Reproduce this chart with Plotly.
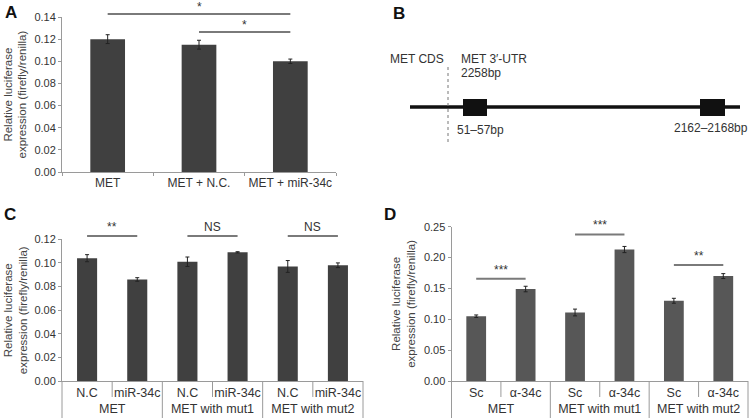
import plotly.graph_objects as go

# ---------------- data ----------------
# Panel A
a_categories = ["MET", "MET + N.C.", "MET + miR-34c"]
a_values = [0.120, 0.115, 0.100]
a_errors = [0.0040, 0.0040, 0.0020]
a_sig_pairs = [(0, 2), (1, 2)]
a_sig_labels = ["*", "*"]
a_yticks = [0.00, 0.02, 0.04, 0.06, 0.08, 0.10, 0.12, 0.14]

# Panel C
c_groups = ["MET", "MET", "MET with mut1", "MET with mut1", "MET with mut2", "MET with mut2"]
c_subs = ["N.C", "miR-34c", "N.C", "miR-34c", "N.C", "miR-34c"]
c_values = [0.104, 0.086, 0.101, 0.109, 0.097, 0.098]
c_errors = [0.0030, 0.0015, 0.0040, 0.0005, 0.0050, 0.0020]
c_sig_pairs = [(0, 1), (2, 3), (4, 5)]
c_sig_labels = ["**", "NS", "NS"]
c_yticks = [0.00, 0.02, 0.04, 0.06, 0.08, 0.10, 0.12]

# Panel D
d_groups = ["MET", "MET", "MET with mut1", "MET with mut1", "MET with mut2", "MET with mut2"]
d_subs = ["Sc", "α-34c", "Sc", "α-34c", "Sc", "α-34c"]
d_values = [0.105, 0.149, 0.111, 0.213, 0.130, 0.170]
d_errors = [0.0020, 0.0045, 0.0055, 0.0050, 0.0040, 0.0040]
d_sig_pairs = [(0, 1), (2, 3), (4, 5)]
d_sig_labels = ["***", "***", "**"]
d_yticks = [0.00, 0.05, 0.10, 0.15, 0.20, 0.25]

# Panel B (schematic, not to scale)
b_cds_label = "MET CDS"
b_utr_label = "MET 3′-UTR"
b_utr_length = "2258bp"
b_site_labels = ["51–57bp", "2162–2168bp"]

# ---------------- layout constants ----------------
W, H = 750, 418
FONT = "Liberation Sans, Arial, sans-serif"
TXT = "#333333"
AX = "#9a9a9a"

def px_x(p):
    return p / W

def px_y(p):
    return 1 - p / H

# plot areas in pixels: (left, right, top, bottom)
A_BOX = (62, 336, 17, 172)
C_BOX = (62, 363, 239.3, 381)
D_BOX = (451.5, 748, 226.7, 381)

a_sig_levels = [0.1427, 0.1265]
c_sig_levels = [0.1228, 0.1228, 0.1228]
d_sig_levels = [0.1657, 0.2374, 0.188]

fig = go.Figure()

fig.add_trace(go.Bar(x=a_categories, y=a_values, width=0.38,
                     error_y=dict(type="data", array=a_errors, thickness=1, width=2, color="#222222"),
                     marker=dict(color="#404040", line=dict(width=0)),
                     showlegend=False, xaxis="x", yaxis="y"))
fig.add_trace(go.Bar(x=[c_groups, c_subs], y=c_values, width=0.4,
                     error_y=dict(type="data", array=c_errors, thickness=1, width=2, color="#222222"),
                     marker=dict(color="#404040", line=dict(width=0)),
                     showlegend=False, xaxis="x3", yaxis="y3"))
fig.add_trace(go.Bar(x=[d_groups, d_subs], y=d_values, width=0.4,
                     error_y=dict(type="data", array=d_errors, thickness=1, width=2, color="#222222"),
                     marker=dict(color="#575757", line=dict(width=0)),
                     showlegend=False, xaxis="x4", yaxis="y4"))

# schematic backbone for panel B (x units: px offset from CDS/UTR boundary)
b_backbone_x = [-38, 292]
b_backbone_y = [107, 107]
fig.add_trace(go.Scatter(x=b_backbone_x, y=b_backbone_y, mode="lines",
                         line=dict(color="#111111", width=3.5), showlegend=False,
                         hoverinfo="skip", xaxis="x2", yaxis="y2"))

def yaxis(box, rng, ticks, **kw):
    return dict(domain=[px_y(box[3]), px_y(box[2])], range=rng, tickvals=ticks,
                tickformat=".2f", showline=True, linecolor=AX, linewidth=1,
                ticks="outside", ticklen=3, tickcolor=AX, showgrid=False, zeroline=False,
                automargin=False,
                tickfont=dict(size=11, color=TXT, family=FONT), fixedrange=True, **kw)

def xaxis(box, size=12, **kw):
    return dict(domain=[px_x(box[0]), px_x(box[1])], showline=True, linecolor=AX,
                linewidth=1, showgrid=False, zeroline=False, tickangle=0, automargin=False,
                tickfont=dict(size=size, color=TXT, family=FONT), fixedrange=True, **kw)

fig.update_layout(
    template="none",
    width=W, height=H, margin=dict(l=0, r=0, t=0, b=0, pad=0),
    paper_bgcolor="white", plot_bgcolor="white",
    font=dict(family=FONT, color=TXT),
    xaxis=xaxis(A_BOX, anchor="y", ticks="outside", tickson="boundaries", ticklen=3, tickcolor=AX),
    yaxis=yaxis(A_BOX, [0, 0.14], a_yticks, anchor="x"),
    xaxis3=xaxis(C_BOX, size=12.5, anchor="y3", showdividers=False, ticks="outside", ticklen=4,
                 tickcolor="rgba(0,0,0,0)"),
    yaxis3=yaxis(C_BOX, [0, 0.12], c_yticks, anchor="x3"),
    xaxis4=xaxis(D_BOX, size=12.5, anchor="y4", showdividers=False, ticks="outside", ticklen=4,
                 tickcolor="rgba(0,0,0,0)"),
    yaxis4=yaxis(D_BOX, [0, 0.25], d_yticks, anchor="x4"),
    xaxis2=dict(domain=[0.5, 1.0], range=[375 - 448, 750 - 448], visible=False, anchor="y2",
                fixedrange=True, automargin=False),
    yaxis2=dict(domain=[px_y(200), 1.0], range=[200, 0], visible=False, anchor="x2",
                fixedrange=True, automargin=False),
    showlegend=False,
)

shapes = []
annotations = []

# significance marks (domain refs so they may sit above the axis range)
def add_sig(xref, yref, n, pairs, labels, levels, ymax, shift):
    for (i0, i1), lab, lev in zip(pairs, labels, levels):
        yd = lev / ymax
        shapes.append(dict(type="line", xref=xref + " domain", yref=yref + " domain",
                           x0=(i0 + 0.5) / n, x1=(i1 + 0.5) / n, y0=yd, y1=yd,
                           line=dict(color="#7a7a7a", width=2)))
        annotations.append(dict(xref=xref + " domain", yref=yref + " domain", x=(i0 + i1 + 1) / 2 / n,
                                y=yd, text=lab, showarrow=False, xanchor="center", yanchor="bottom",
                                yshift=shift, font=dict(size=12, color=TXT, family=FONT)))

add_sig("x", "y", 3, a_sig_pairs, a_sig_labels, a_sig_levels, 0.14, -2)
add_sig("x3", "y3", 6, c_sig_pairs, c_sig_labels, c_sig_levels, 0.12, 0)
add_sig("x4", "y4", 6, d_sig_pairs, d_sig_labels, d_sig_levels, 0.25, 0)

# dividers under the category axes of C and D: short ones between sub categories,
# long ones at group boundaries
for box, n in [(C_BOX, 6), (D_BOX, 6)]:
    for k in range(0, n + 1):
        xp = box[0] + (box[1] - box[0]) * k / n
        ybot = box[3] + 16 if k % 2 else H
        shapes.append(dict(type="line", xref="paper", yref="paper",
                           x0=px_x(xp), x1=px_x(xp), y0=px_y(box[3]), y1=px_y(ybot),
                           line=dict(color=AX, width=1)))

# y-axis titles
ytitle = "Relative luciferase<br>expression (firefly/renilla)"
for xp, box in [(15, A_BOX), (15, C_BOX), (404, D_BOX)]:
    annotations.append(dict(xref="paper", yref="paper", x=px_x(xp), y=px_y((box[2] + box[3]) / 2),
                            text=ytitle, textangle=-90, showarrow=False,
                            xanchor="center", yanchor="middle",
                            font=dict(size=11.5, color="#444444", family=FONT)))

# panel letters
for lab, xp, yp in [("A", 11, 13), ("B", 399, 14), ("C", 10, 214), ("D", 390, 214)]:
    annotations.append(dict(xref="paper", yref="paper", x=px_x(xp), y=px_y(yp), text="<b>%s</b>" % lab,
                            showarrow=False, xanchor="center", yanchor="middle",
                            font=dict(size=17, color="#111111", family=FONT)))

# Panel B schematic elements (x: px offset from boundary, y: px from top)
b_boxes = [(15, 39), (252, 277)]
for x0, x1 in b_boxes:
    shapes.append(dict(type="rect", xref="x2", yref="y2", x0=x0, x1=x1, y0=99, y1=116,
                       fillcolor="#111111", line=dict(width=0)))
shapes.append(dict(type="line", xref="x2", yref="y2", x0=0, x1=0, y0=67, y1=142,
                   line=dict(color="#777777", width=1, dash="dot")))
bfont = dict(size=12, color=TXT, family=FONT)
annotations += [
    dict(xref="x2", yref="y2", x=-2, y=59, text=b_cds_label, xanchor="right", yanchor="middle", showarrow=False, font=bfont),
    dict(xref="x2", yref="y2", x=11, y=59, text=b_utr_label, xanchor="left", yanchor="middle", showarrow=False, font=bfont),
    dict(xref="x2", yref="y2", x=11, y=73, text=b_utr_length, xanchor="left", yanchor="middle", showarrow=False, font=bfont),
    dict(xref="x2", yref="y2", x=7, y=130, text=b_site_labels[0], xanchor="left", yanchor="middle", showarrow=False, font=bfont),
    dict(xref="x2", yref="y2", x=302, y=128, text=b_site_labels[1], xanchor="right", yanchor="middle", showarrow=False, font=bfont),
]

fig.update_layout(shapes=shapes, annotations=annotations)
fig.write_html("out.html", config={"displayModeBar": False, "staticPlot": True},
               post_script="document.body.style.margin='0';document.body.style.padding='0';")
